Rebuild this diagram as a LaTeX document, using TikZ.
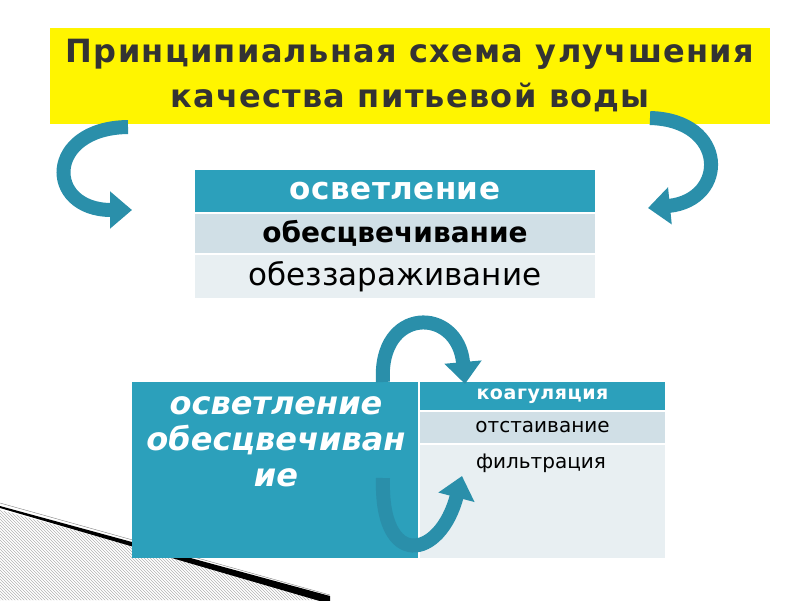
\documentclass[tikz,border=0pt]{standalone}
\usepackage{fontspec}
\setmainfont{DejaVu Sans}
\usetikzlibrary{arrows.meta,patterns}
\definecolor{hdteal}{HTML}{2CA0BB}
\definecolor{rowmid}{HTML}{D0DFE6}
\definecolor{rowlow}{HTML}{E8EFF2}
\definecolor{arteal}{HTML}{2A8FAA}
\definecolor{ttlyel}{HTML}{FFF500}
\definecolor{ttlgray}{HTML}{333333}

\begin{document}
\begin{tikzpicture}[x=1pt,y=-1pt,
  cell/.style={inner sep=0pt,outer sep=0pt,text=black},
  flow/.style={line width=14pt,draw=arteal,-{Triangle[length=22pt,width=36pt,fill=arteal]}}]
\useasboundingbox (0,0) rectangle (800,600);
% corner decoration
\fill[pattern=north west lines,pattern color=gray!60] (0,510) -- (330,600) -- (0,600) -- cycle;
\draw[gray,thin] (0,503) -- (330,595);
\fill[black] (0,506) -- (330,596) -- (330,604) -- (0,508) -- cycle;
% title
\node[fill=ttlyel,minimum width=720pt,minimum height=96pt,align=center,text=ttlgray,
  font=\bfseries\fontsize{32}{45}\selectfont\addfontfeature{LetterSpace=4}] (T) at (410,76) {Принципиальная схема улучшения\\качества питьевой воды};
% upper table
\node[cell,fill=hdteal,minimum width=400pt,minimum height=42pt,text=white,
  font=\bfseries\fontsize{31}{32}\selectfont\addfontfeature{LetterSpace=1.5}] (A) at (395,191) {осветление};
\node[cell,fill=rowmid,minimum width=400pt,minimum height=39pt,
  font=\bfseries\fontsize{28}{30}\selectfont] (B) at (395,233.5) {обесцвечивание};
\node[cell,fill=rowlow,minimum width=400pt,minimum height=43pt,
  font=\fontsize{31}{33}\selectfont] (C) at (395,276.5) {обеззараживание};
% lower block
\node[cell,fill=hdteal,minimum width=286pt,minimum height=176pt] (L) at (275,470) {};
\node[align=center,text=white,font=\bfseries\itshape\fontsize{32}{36}\selectfont] (Lt) at (276,442) {осветление\\обесцвечиван\\ие};
\node[cell,fill=hdteal,minimum width=245pt,minimum height=28pt,text=white,
  font=\bfseries\fontsize{19}{20}\selectfont\addfontfeature{LetterSpace=3}] (D) at (542.5,396) {коагуляция};
\node[cell,fill=rowmid,minimum width=245pt,minimum height=31pt,
  font=\fontsize{20}{22}\selectfont] (E) at (542.5,427.5) {отстаивание};
\node[cell,fill=rowlow,minimum width=245pt,minimum height=113pt] (F) at (542.5,501.5) {};
\node[font=\fontsize{20}{22}\selectfont] (Ft) at (541,463) {фильтрация};
% arrows
\coordinate (a1) at (128,127);
\coordinate (a2) at (132,210);
\coordinate (b1) at (650,118);
\coordinate (b2) at (648,208);
\coordinate (c1) at (383,382);
\coordinate (c2) at (465,384);
\coordinate (d1) at (383,478);
\coordinate (d2) at (462,476);
\draw[flow] (a1) .. controls (45,128) and (45,210) .. (a2);
\draw[flow] (b1) .. controls (728,120) and (728,200) .. (b2);
\draw[flow] (c1) .. controls (378,306) and (458,306) .. (c2);
\draw[flow] (d1) .. controls (380,570) and (440,560) .. (d2);
\end{tikzpicture}
\end{document}
